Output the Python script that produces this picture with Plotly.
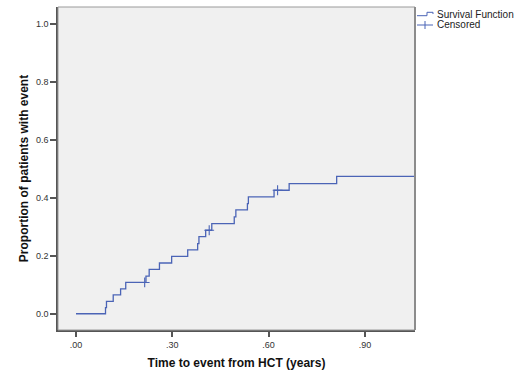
import plotly.graph_objects as go

# Cumulative proportion of patients with event (step function)
times = [0.0, 0.092, 0.095, 0.116, 0.139, 0.155, 0.218, 0.228, 0.260, 0.298,
         0.348, 0.379, 0.383, 0.404, 0.423, 0.493, 0.498, 0.534, 0.537, 0.617,
         0.664, 0.812, 1.056]
cum_prop = [0.0, 0.021, 0.043, 0.065, 0.086, 0.108, 0.130, 0.153, 0.175, 0.198,
            0.220, 0.242, 0.266, 0.288, 0.311, 0.334, 0.358, 0.380, 0.403, 0.426,
            0.449, 0.474, 0.474]

censor_times = [0.214, 0.415, 0.628]
censor_prop = [0.108, 0.288, 0.426]

x_ticks = [0.0, 0.3, 0.6, 0.9]
x_tick_labels = [".00", ".30", ".60", ".90"]
y_ticks = [0.0, 0.2, 0.4, 0.6, 0.8, 1.0]
y_tick_labels = ["0.0", "0.2", "0.4", "0.6", "0.8", "1.0"]
legend_labels = ["Survival Function", "Censored"]

line_color = "#4b64b6"
font_family = "Liberation Sans, Arial, sans-serif"

fig = go.Figure()
fig.add_trace(go.Scatter(
    x=times, y=cum_prop, mode="lines", line_shape="hv",
    line=dict(color=line_color, width=1.3),
    name=legend_labels[0], showlegend=False,
))
fig.add_trace(go.Scatter(
    x=censor_times, y=censor_prop, mode="markers",
    marker=dict(symbol="cross-thin-open", size=7, color=line_color,
                line=dict(color=line_color, width=1.1)),
    name=legend_labels[1], showlegend=False,
))

# plot frame
fig.add_shape(type="rect", xref="paper", yref="paper", x0=0, x1=1, y0=0, y1=1,
              line=dict(color="#9a9a9a", width=1), layer="above")
fig.add_shape(type="line", xref="paper", yref="paper", x0=1, x1=1, y0=0, y1=1,
              line=dict(color="#8c8c8c", width=2), layer="above")

# legend (drawn as icons + text, outside plot area at top right)
PW, PH, L0, T0 = 357.0, 323.0, 58.0, 7.0
def px(x):
    return (x - L0) / PW
def py(y):
    return 1 - (y - T0) / PH

step_icon = [(417, 15.7), (427, 15.7), (427, 12.3), (433, 12.3), (433, 14)]
path = "M " + " L ".join(f"{px(a):.4f},{py(b):.4f}" for a, b in step_icon)
fig.add_shape(type="path", xref="paper", yref="paper", path=path,
              line=dict(color=line_color, width=1))
fig.add_shape(type="line", xref="paper", yref="paper", x0=px(417), x1=px(433),
              y0=py(25), y1=py(25), line=dict(color=line_color, width=1))
fig.add_shape(type="line", xref="paper", yref="paper", x0=px(425), x1=px(425),
              y0=py(21), y1=py(29), line=dict(color=line_color, width=1))
for label, yy in zip(legend_labels, [14.3, 25]):
    fig.add_annotation(text=label, xref="paper", yref="paper", x=px(435), y=py(yy),
                       xanchor="left", yanchor="middle", showarrow=False,
                       font=dict(size=10, color="#222222"))

fig.update_layout(
    width=520, height=373,
    margin=dict(l=58, r=105, t=7, b=43, autoexpand=False),
    paper_bgcolor="white",
    plot_bgcolor="#f0f0f0",
    font=dict(family=font_family, size=9, color="#333333"),
    showlegend=False,
    xaxis=dict(
        range=[-0.056, 1.056], tickvals=x_ticks, ticktext=x_tick_labels,
        showgrid=False, zeroline=False, showline=True, linecolor="#555555", linewidth=1.5,
        ticks="outside", ticklen=5, tickcolor="#555555", tickwidth=1.5,
        tickfont=dict(size=9, color="#333333"), automargin=False,
        title=dict(text="<b>Time to event from HCT (years)</b>",
                   font=dict(size=12, color="#111111"), standoff=10),
    ),
    yaxis=dict(
        range=[-0.056, 1.058], tickvals=y_ticks, ticktext=y_tick_labels,
        showgrid=False, zeroline=False, showline=True, linecolor="#555555", linewidth=1.5,
        ticks="outside", ticklen=6, tickcolor="#555555", tickwidth=1.5,
        tickfont=dict(size=9, color="#333333"), automargin=False,
        title=dict(text="<b>Proportion of patients with event</b>",
                   font=dict(size=12, color="#111111"), standoff=5),
    ),
)

fig.write_html("out.html", config={"displayModeBar": False},
               post_script="document.body.style.margin='0';document.body.style.padding='0';")
